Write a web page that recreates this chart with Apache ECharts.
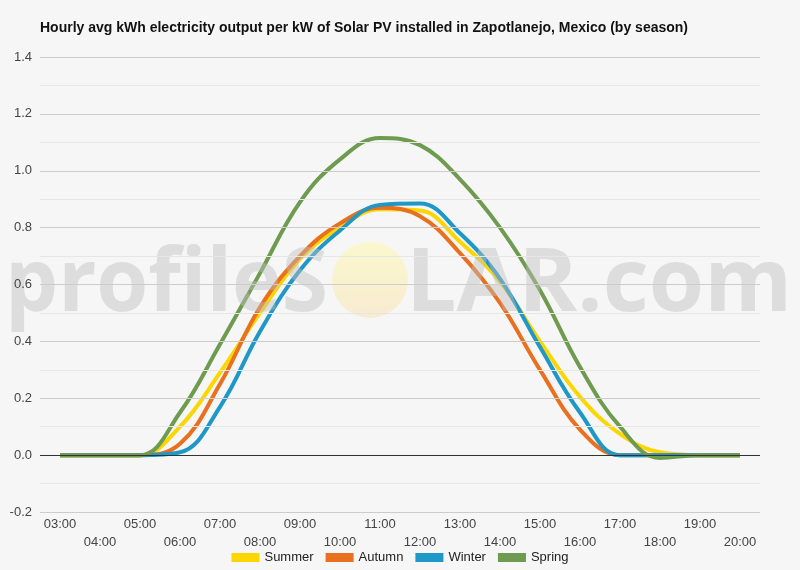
<!DOCTYPE html>
<html>
<head>
<meta charset="utf-8">
<script src="https://cdn.jsdelivr.net/npm/echarts@6/dist/echarts.min.js"></script>
<style>
  html, body { margin: 0; padding: 0; background: #f6f6f6; }
  #chart { width: 800px; height: 570px; }
</style>
</head>
<body>
<div id="chart"></div>
<script>
const hours = ['03:00', '04:00', '05:00', '06:00', '07:00', '08:00', '09:00', '10:00', '11:00',
  '12:00', '13:00', '14:00', '15:00', '16:00', '17:00', '18:00', '19:00', '20:00']

const summer = [0, 0, 0, 0.10, 0.29, 0.50, 0.69, 0.80, 0.865, 0.86, 0.75, 0.61, 0.40, 0.205, 0.075, 0.01, 0, 0]
const autumn = [0, 0, 0, 0.04, 0.25, 0.52, 0.70, 0.815, 0.87, 0.84, 0.71, 0.535, 0.30, 0.09, 0, 0, 0, 0]
const winter = [0, 0, 0, 0.01, 0.17, 0.435, 0.65, 0.79, 0.88, 0.885, 0.78, 0.62, 0.38, 0.15, 0, 0, 0, 0]
const spring = [0, 0, 0, 0.15, 0.39, 0.64, 0.89, 1.04, 1.115, 1.09, 0.97, 0.80, 0.58, 0.31, 0.10, -0.01, 0, 0]

const seasons = [
  { name: 'Summer', data: summer, color: '#fcd600' },
  { name: 'Autumn', data: autumn, color: '#e8701e' },
  { name: 'Winter', data: winter, color: '#1f97c7' },
  { name: 'Spring', data: spring, color: '#6e9b4f' }
]

const font = 'Liberation Sans, Arial, sans-serif'
const wmFont = 'bold 88px "Open Sans", "Liberation Sans", sans-serif'
const wmColor = 'rgba(190,190,190,0.45)'
const chart = echarts.init(document.getElementById('chart'))

// squeeze the watermark words so they fill the same width as in the picture
const measure = document.createElement('canvas').getContext('2d')
measure.font = wmFont
const fitX = (text, width) => width / measure.measureText(text).width

// grid line colours from -0.2 up to 1.4, the zero line is dark
const splitColors = ['#cccccc', '#333333', '#cccccc', '#cccccc', '#cccccc', '#cccccc', '#cccccc', '#cccccc', '#cccccc']

const option = {
  backgroundColor: '#f6f6f6',
  animation: false,
  textStyle: { fontFamily: font },
  title: {
    text: 'Hourly avg kWh electricity output per kW of Solar PV installed in Zapotlanejo, Mexico (by season)',
    left: 40,
    top: 21,
    padding: 0,
    textStyle: { fontSize: 14, fontWeight: 'bold', color: '#111', fontFamily: font }
  },
  grid: { left: 40, right: 40, top: 57, bottom: 58 },
  legend: {
    top: 551,
    left: 'center',
    icon: 'rect',
    itemWidth: 28,
    itemHeight: 9,
    itemGap: 12,
    padding: 0,
    textStyle: { fontSize: 13, color: '#222', fontFamily: font },
    data: seasons.map(s => s.name)
  },
  graphic: [
    {
      type: 'text', x: 5, y: 286, scaleX: fitX('profileS', 323), z: 50, silent: true,
      style: { text: 'profileS', font: wmFont, fill: wmColor, verticalAlign: 'middle', align: 'left' }
    },
    {
      type: 'text', x: 406, y: 286, scaleX: fitX('LAR.com', 386), z: 50, silent: true,
      style: { text: 'LAR.com', font: wmFont, fill: wmColor, verticalAlign: 'middle', align: 'left' }
    },
    {
      type: 'circle', z: 50, silent: true,
      shape: { cx: 370, cy: 280, r: 38 },
      style: {
        fill: new echarts.graphic.LinearGradient(0, 0, 0, 1, [
          { offset: 0, color: 'rgba(250,248,200,0.9)' },
          { offset: 1, color: 'rgba(248,234,205,0.9)' }
        ])
      }
    }
  ],
  xAxis: {
    type: 'category',
    data: hours,
    boundaryGap: true,
    axisLine: { onZero: false, show: false },
    axisTick: { show: false },
    axisLabel: {
      interval: 0,
      fontSize: 13,
      color: '#444',
      margin: 3,
      lineHeight: 18,
      formatter: (v, i) => (i % 2 ? '\n' + v : v)
    }
  },
  yAxis: {
    type: 'value',
    z: 60,
    min: -0.2,
    max: 1.4,
    interval: 0.2,
    axisLine: { show: false },
    axisTick: { show: false },
    axisLabel: {
      fontSize: 13,
      color: '#444',
      margin: 8,
      formatter: v => v.toFixed(1)
    },
    splitLine: { lineStyle: { color: splitColors, width: 1 } },
    minorTick: { show: false, splitNumber: 2 },
    minorSplitLine: { show: true, lineStyle: { color: '#e6e6e6', width: 1 } }
  },
  series: seasons.map(s => ({
    name: s.name,
    type: 'line',
    data: s.data,
    smooth: 0.4,
    symbol: 'none',
    z: 3,
    lineStyle: { width: 4, color: s.color },
    itemStyle: { color: s.color }
  }))
}

chart.setOption(option)
</script>
</body>
</html>
